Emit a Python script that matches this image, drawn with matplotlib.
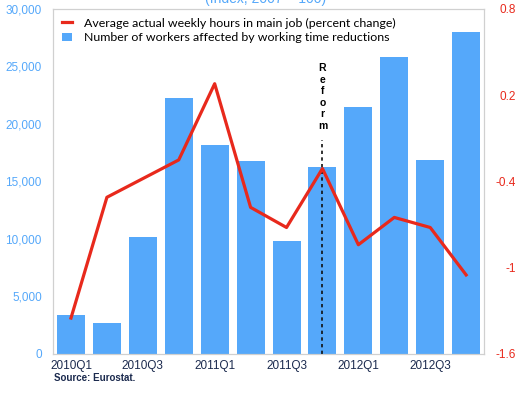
import matplotlib
matplotlib.use("Agg")
import matplotlib.pyplot as plt
import numpy as np

quarters = ["2010Q1", "2010Q2", "2010Q3", "2010Q4",
            "2011Q1", "2011Q2", "2011Q3", "2011Q4",
            "2012Q1", "2012Q2", "2012Q3", "2012Q4"]
workers = [3400, 2700, 10200, 22300, 18200, 16800, 9800, 16300,
           21500, 25800, 16900, 28000]
hours_change = [-1.35, -0.51, -0.38, -0.25, 0.28, -0.58, -0.72, -0.31,
                -0.84, -0.65, -0.72, -1.05]
reform_quarter = "2011Q4"

_BLUE, _RED, _NAVY, _FRAME = "#55a8fa", "#e8291c", "#1b2a4e", "#d0d0d0"

fig = plt.figure(figsize=(5.27, 3.99), dpi=100)
ax = fig.add_axes([0.1006, 0.1128, 0.818, 0.8647])
ax2 = ax.twinx()

x = np.arange(len(quarters))
bars = ax.bar(x, workers, width=0.78, color=_BLUE, zorder=2,
              label="Number of workers affected by working time reductions")
line, = ax2.plot(x, hours_change, color=_RED, linewidth=2.3, zorder=3,
                 label="Average actual weekly hours in main job (percent change)")

ax.set_xlim(-0.5, len(quarters) - 0.5)
ax.set_ylim(0, 30000)
ax.set_yticks(range(0, 30001, 5000))
ax.set_yticklabels([f"{v:,}" for v in range(0, 30001, 5000)])
ax2.set_ylim(-1.6, 0.8)
ax2.set_yticks([-1.6, -1.0, -0.4, 0.2, 0.8])
ax2.set_yticklabels(["-1.6", "-1", "-0.4", "0.2", "0.8"])

ax.set_xticks(x[::2])
ax.set_xticklabels(quarters[::2])
ax.tick_params(axis="x", length=0, pad=4, labelsize=8.5, labelcolor=_NAVY)
ax.tick_params(axis="y", length=0, pad=8, labelsize=8.5, labelcolor=_BLUE)
ax2.tick_params(axis="y", length=0, pad=23, labelsize=8.5, labelcolor=_RED)
for lbl in ax2.get_yticklabels():
    lbl.set_horizontalalignment("right")
for a in (ax, ax2):
    for sp in a.spines.values():
        sp.set_color(_FRAME)
        sp.set_linewidth(0.8)
for lbl in ax.get_xticklabels() + ax.get_yticklabels() + ax2.get_yticklabels():
    lbl.set_family(["Liberation Sans", "DejaVu Sans"])

# reform marker
rx = quarters.index(reform_quarter)
ax.axvline(rx, ymin=0, ymax=0.62, color="#111111", linestyle=(0, (2, 2)),
           linewidth=1.2, zorder=4)
ax.text(rx, 0.745, "\n".join("Reform"), transform=ax.get_xaxis_transform(),
        ha="center", va="center", fontsize=7.5, fontweight="bold",
        linespacing=1.2, family=["Liberation Sans", "DejaVu Sans"], zorder=5)

leg = ax.legend([line, bars],
                [line.get_label(), bars.get_label()],
                loc="upper left", bbox_to_anchor=(0.0, 1.0), frameon=False,
                prop={"family": ["Lato", "DejaVu Sans"], "size": 8.9},
                handlelength=0.8, handletextpad=1.0, labelspacing=0.3,
                borderaxespad=0.3)
leg.set_zorder(10)

fig.text(0.503, 0.992, "(Index, 2007 = 100)", color=_BLUE, ha="center",
         va="baseline", fontsize=10, family=["Liberation Sans", "DejaVu Sans"])
fig.text(0.102, 0.045, "Source: Eurostat.", color=_NAVY, fontsize=7,
         fontweight="bold", family=["Liberation Sans", "DejaVu Sans"])

fig.savefig("out.png", dpi=100)
